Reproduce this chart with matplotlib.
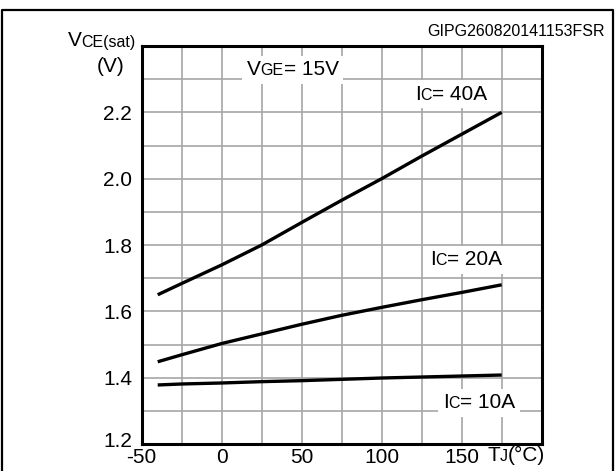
import matplotlib
matplotlib.use('Agg')
import matplotlib.pyplot as plt
from matplotlib.offsetbox import TextArea, HPacker, AnnotationBbox
from matplotlib.lines import Line2D
import numpy as np

# Tj in degC, Vce(sat) in V
temps = [-40, -25, 0, 25, 50, 75, 100, 125, 150, 175]
vce_40a = [1.65, 1.684, 1.74, 1.80, 1.868, 1.935, 2.00, 2.068, 2.134, 2.20]
vce_20a = [1.448, 1.469, 1.503, 1.532, 1.561, 1.588, 1.612, 1.635, 1.657, 1.68]
vce_10a = [1.378, 1.381, 1.384, 1.388, 1.391, 1.395, 1.399, 1.402, 1.405, 1.408]

x_ticks = [-50, -25, 0, 25, 50, 75, 100, 125, 150, 175, 200]
x_labels = ['-50', '', '0', '', '50', '', '100', '', '150', '', '']
y_ticks = [1.2, 1.3, 1.4, 1.5, 1.6, 1.7, 1.8, 1.9, 2.0, 2.1, 2.2, 2.3, 2.4]
y_labels = ['1.2', '', '1.4', '', '1.6', '', '1.8', '', '2.0', '', '2.2', '', '']

FONT = 'Liberation Sans'
BIG = 15
SMALL = 11.5

plt.rcParams['font.family'] = FONT


def mixed_label(ax, parts, xy, coords='data', align=(0.5, 0.5), white=True):
    # parts: list of (text, big?) pieces on one baseline
    areas = [TextArea(t, textprops=dict(fontsize=BIG if big else SMALL, family=FONT, color='black'))
             for t, big in parts]
    box = HPacker(children=areas, align='baseline', pad=0, sep=0)
    ab = AnnotationBbox(box, xy, xycoords=coords, box_alignment=align,
                        frameon=white, pad=0.35,
                        bboxprops=dict(facecolor='white', edgecolor='none'),
                        annotation_clip=False, zorder=3)
    ax.add_artist(ab)
    return ab


fig = plt.figure(figsize=(6.15, 4.71), dpi=100)
ax = fig.add_axes([0.2304, 0.0573, 0.6504, 0.845])

for vals in (vce_40a, vce_20a, vce_10a):
    ax.plot(temps, vals, color='black', lw=2.4, solid_capstyle='butt', zorder=4)

ax.set_xlim(-50, 200)
ax.set_ylim(1.2, 2.4)
ax.set_xticks(x_ticks)
ax.set_xticklabels(x_labels)
ax.set_yticks(y_ticks)
# lowest label sits a bit higher in the original, drawn separately below
ax.set_yticklabels([''] + y_labels[1:])
ax.tick_params(length=0, labelsize=BIG, pad=3)
ax.tick_params(axis='y', pad=7)
ax.grid(True, color='#a6a6a6', lw=1.2)
ax.set_axisbelow(True)
for s in ax.spines.values():
    s.set_linewidth(2.2)

ax.annotate(y_labels[0], (ax.get_xlim()[0], y_ticks[0]), xytext=(-7, 3),
            textcoords='offset points', ha='right', va='center_baseline',
            fontsize=BIG, annotation_clip=False)

mixed_label(ax, [('V', True), ('GE', False), ('= 15V', True)], (44.3, 2.328))
mixed_label(ax, [('I', True), ('C', False), ('= 40A', True)], (143.3, 2.255))
mixed_label(ax, [('I', True), ('C', False), ('= 20A', True)], (152.7, 1.755))
mixed_label(ax, [('I', True), ('C', False), ('= 10A', True)], (160.8, 1.324))

# axis titles
mixed_label(ax, [('V', True), ('CE(sat)', False)], (136 / 615, 1 - 41 / 471),
            coords='figure fraction', align=(1.0, 0.5), white=False)
mixed_label(ax, [('(V)', True)], (111 / 615, 1 - 67 / 471),
            coords='figure fraction', white=False)
mixed_label(ax, [('T', True), ('J', False), ('(°C)', True)], (545 / 615, 1 - 446 / 471),
            coords='figure fraction', align=(1.0, 1.0), white=False)

fig.text(605 / 615, 1 - 32 / 471, 'GIPG260820141153FSR', ha='right', va='center',
         fontsize=11.5, family=FONT)

# outer frame (open at the bottom)
fx = [1.5 / 615, 1.5 / 615, 613 / 615, 613 / 615]
fy = [0, 1 - 10 / 471, 1 - 10 / 471, 0]
fig.add_artist(Line2D(fx, fy, transform=fig.transFigure, color='black', lw=1.6))

fig.savefig('out.png', dpi=100)
